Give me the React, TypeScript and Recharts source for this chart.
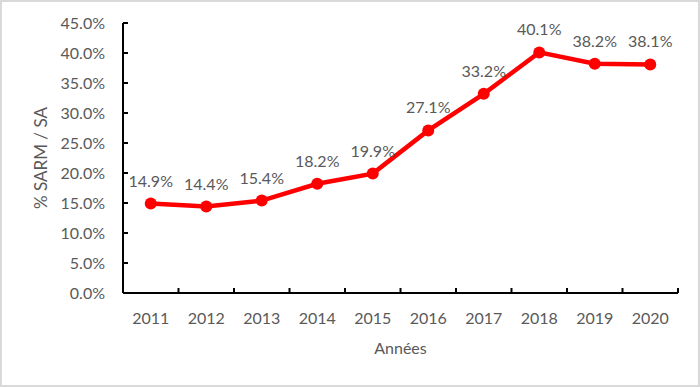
import { LineChart, Line, XAxis, YAxis, LabelList } from 'recharts'

const years = ['2011', '2012', '2013', '2014', '2015', '2016', '2017', '2018', '2019', '2020']
const sarmRates = [14.9, 14.4, 15.4, 18.2, 19.9, 27.1, 33.2, 40.1, 38.2, 38.1]
const yTicks = [0, 5, 10, 15, 20, 25, 30, 35, 40, 45]

const data = years.map((year, i) => ({ year, value: sarmRates[i] }))

const font = 'Lato, "Open Sans", sans-serif'
const textColor = '#595959'

const chartW = 700
const chartH = 387
const margin = { top: 23, right: 22, bottom: 28, left: 0 }
const yAxisW = 123
const xAxisH = 66
const axisY = chartH - margin.bottom - xAxisH
const axisX = margin.left + yAxisW
const bandW = (chartW - margin.left - margin.right - yAxisW) / years.length

// Excel-style category tick: label centred, inner tick mark on the band boundary
function YearTick(props: any) {
  const { x, payload, index } = props
  return (
    <g>
      <line x1={x + bandW / 2} x2={x + bandW / 2} y1={axisY - 5} y2={axisY} stroke="#000" strokeWidth={2} />
      {index === 0 && (
        <line x1={x - bandW / 2} x2={x - bandW / 2} y1={axisY - 5} y2={axisY} stroke="#000" strokeWidth={2} />
      )}
      <text x={x} y={axisY + 31} textAnchor="middle" fill={textColor} fontSize={16} fontFamily={font}>
        {payload.value}
      </text>
    </g>
  )
}

function PercentTick(props: any) {
  const { y, payload } = props
  return (
    <g>
      <line x1={axisX} x2={axisX + 5} y1={y} y2={y} stroke="#000" strokeWidth={2} />
      <text x={axisX - 18} y={y + 6} textAnchor="end" fill={textColor} fontSize={16} fontFamily={font}>
        {`${payload.value.toFixed(1)}%`}
      </text>
    </g>
  )
}

export default function App() {
  return (
    <div
      style={{
        position: 'absolute',
        top: 0,
        left: 0,
        width: chartW,
        height: chartH,
        background: '#fff',
        fontFamily: font,
      }}
    >
      <div
        style={{
          position: 'absolute',
          left: 0,
          top: 0,
          width: 696,
          height: 383,
          border: '2px solid #d9d9d9',
        }}
      />
      <LineChart
        width={chartW}
        height={chartH}
        data={data}
        margin={margin}
        style={{ position: 'absolute', top: 0, left: 0 }}
      >
        <XAxis
          dataKey="year"
          scale="band"
          height={xAxisH}
          stroke="#000"
          strokeWidth={2}
          tickLine={false}
          tick={<YearTick />}
          interval={0}
          label={{
            value: 'Années',
            position: 'insideBottom',
            offset: 5,
            fill: textColor,
            fontSize: 16,
            fontFamily: font,
          }}
        />
        <YAxis
          width={yAxisW}
          domain={[0, 45]}
          ticks={yTicks}
          interval={0}
          stroke="#000"
          strokeWidth={2}
          tickLine={false}
          tick={<PercentTick />}
          label={{
            value: '% SARM / SA',
            angle: -90,
            position: 'insideLeft',
            offset: 41,
            style: { textAnchor: 'middle' },
            fill: textColor,
            fontSize: 17,
            fontFamily: font,
          }}
        />
        <Line
          type="linear"
          dataKey="value"
          stroke="#ff0000"
          strokeWidth={4.5}
          dot={{ r: 6, fill: '#ff0000', stroke: '#ff0000', strokeWidth: 0 }}
          isAnimationActive={false}
        >
          <LabelList
            dataKey="value"
            position="top"
            offset={17}
            formatter={(v: number) => `${v.toFixed(1)}%`}
            style={{ fill: textColor, fontSize: 16, fontFamily: font }}
          />
        </Line>
      </LineChart>
    </div>
  )
}
